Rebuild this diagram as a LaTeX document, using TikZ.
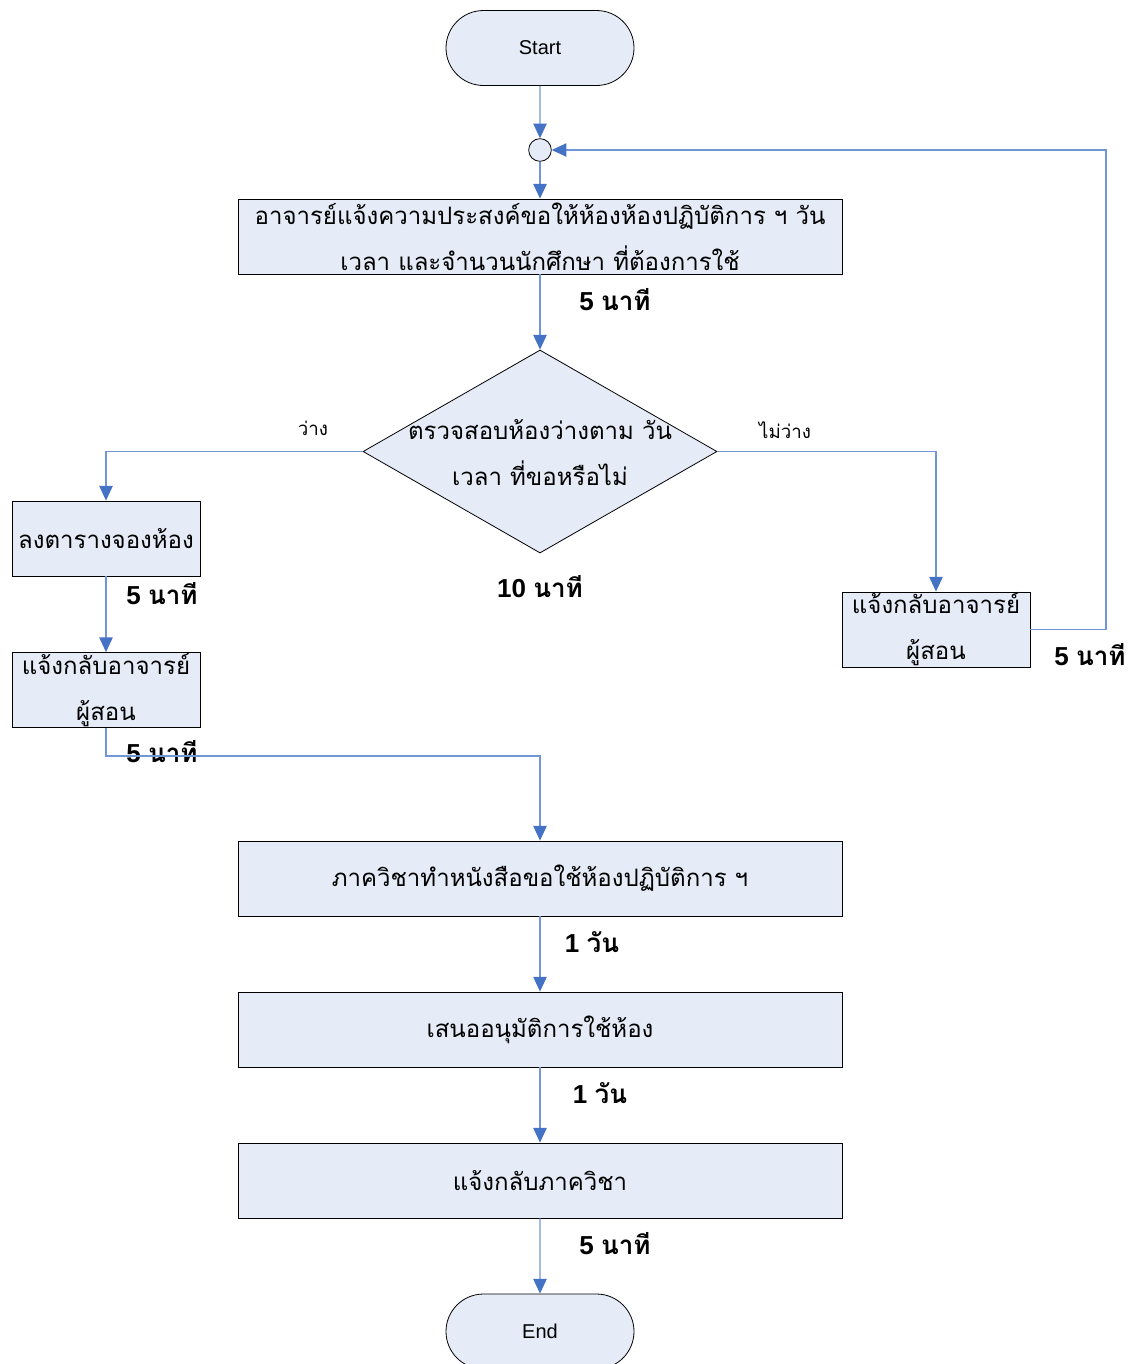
\documentclass[tikz,border=0pt]{standalone}
\usepackage{fontspec}
\setmainfont{Liberation Sans}
\newfontfamily\thaifont[Script=Thai]{Loma}
\usetikzlibrary{shapes.geometric,shapes.misc,arrows.meta}
\definecolor{lineblue}{RGB}{112,150,214}
\definecolor{arrowblue}{RGB}{68,114,196}
\definecolor{boxfill}{RGB}{230,236,247}
\newcommand{\thaitext}{\thaifont\fontsize{18}{34.5}\selectfont}
\newcommand{\timetext}{\bfseries\fontsize{19.5}{22}\selectfont}
\newcommand{\nati}{{\thaifont\bfseries นาที}}
\newcommand{\wan}{{\thaifont\bfseries วัน}}
\begin{document}
\begin{tikzpicture}[x=0.75pt,y=-0.75pt,
  proc/.style={draw=black, fill=boxfill, line width=0.6pt, minimum width=453pt,
    minimum height=56.25pt, inner sep=0pt, align=center, font=\thaitext},
  smallproc/.style={proc, minimum width=141pt},
  term/.style={rounded rectangle, draw=black, fill=boxfill, line width=0.6pt,
    minimum width=141pt, minimum height=56.25pt, inner sep=0pt, font=\fontsize{15}{18}\selectfont},
  decide/.style={diamond, draw=black, fill=boxfill, line width=0.6pt,
    minimum width=265.5pt, minimum height=152.25pt, inner sep=0pt},
  joint/.style={circle, draw=black, fill=boxfill, line width=0.6pt, minimum size=17pt, inner sep=0pt},
  flow/.style={draw=lineblue, line width=0.9pt, -{Triangle[length=11pt,width=10pt,color=arrowblue]}},
  timelbl/.style={font=\timetext, inner sep=0pt},
  choice/.style={font=\thaifont\fontsize{14}{16}\selectfont, inner sep=0pt}
]
\useasboundingbox (0,0) rectangle (1133,1364);

\node[term] (start) at (540,48) {Start};
\node[joint] (circ) at (540,150) {};
\node[proc] (b1) at (540,236.5) {อาจารย์แจ้งความประสงค์ขอให้ห้องห้องปฏิบัติการ ฯ วัน\\เวลา และจำนวนนักศึกษา ที่ต้องการใช้};
\node[timelbl] (t1) at (615,300) {5 \nati};
\node[decide] (dec) at (540,451.5) {};
\node[align=center, font=\thaitext, inner sep=0pt] (dectext) at (540,453) {ตรวจสอบห้องว่างตาม วัน\\เวลา ที่ขอหรือไม่};
\node[timelbl] (t2) at (540,587) {10 \nati};
\node[choice] (yes) at (313,428) {ว่าง};
\node[choice] (no) at (785,430) {ไม่ว่าง};

\node[smallproc] (l1) at (106,538.5) {ลงตารางจองห้อง};
\node[timelbl] (t3) at (162,594) {5 \nati};
\node[smallproc] (l2) at (106,690) {แจ้งกลับอาจารย์\\ผู้สอน};
\node[timelbl] (t4) at (162,752) {5 \nati};

\node[smallproc] (r1) at (936,629.5) {แจ้งกลับอาจารย์\\ผู้สอน};
\node[timelbl] (t5) at (1090,655) {5 \nati};

\node[proc] (b5) at (540,878.5) {ภาควิชาทำหนังสือขอใช้ห้องปฏิบัติการ ฯ};
\node[timelbl] (t6) at (592,942) {1 \wan};
\node[proc] (b6) at (540,1029.5) {เสนออนุมัติการใช้ห้อง};
\node[timelbl] (t7) at (600,1093) {1 \wan};
\node[proc] (b7) at (540,1180.5) {แจ้งกลับภาควิชา};
\node[timelbl] (t8) at (615,1244) {5 \nati};
\node[term] (end) at (540,1331.5) {End};

\coordinate (j1) at (106,756);
\coordinate (j2) at (1106,629.5);

\draw[flow] (start) -- (circ);
\draw[flow] (circ) -- (b1);
\draw[flow] (b1) -- (dec.north);
\draw[flow] (dec.west) -| (l1.north);
\draw[flow] (l1) -- (l2);
\draw[flow] (l2.south) -- (j1) -| (b5.north);
\draw[flow] (dec.east) -| (r1.north);
\draw[flow] (r1.east) -- (j2) |- (circ.east);
\draw[flow] (b5) -- (b6);
\draw[flow] (b6) -- (b7);
\draw[flow] (b7) -- (end);
\end{tikzpicture}
\end{document}
